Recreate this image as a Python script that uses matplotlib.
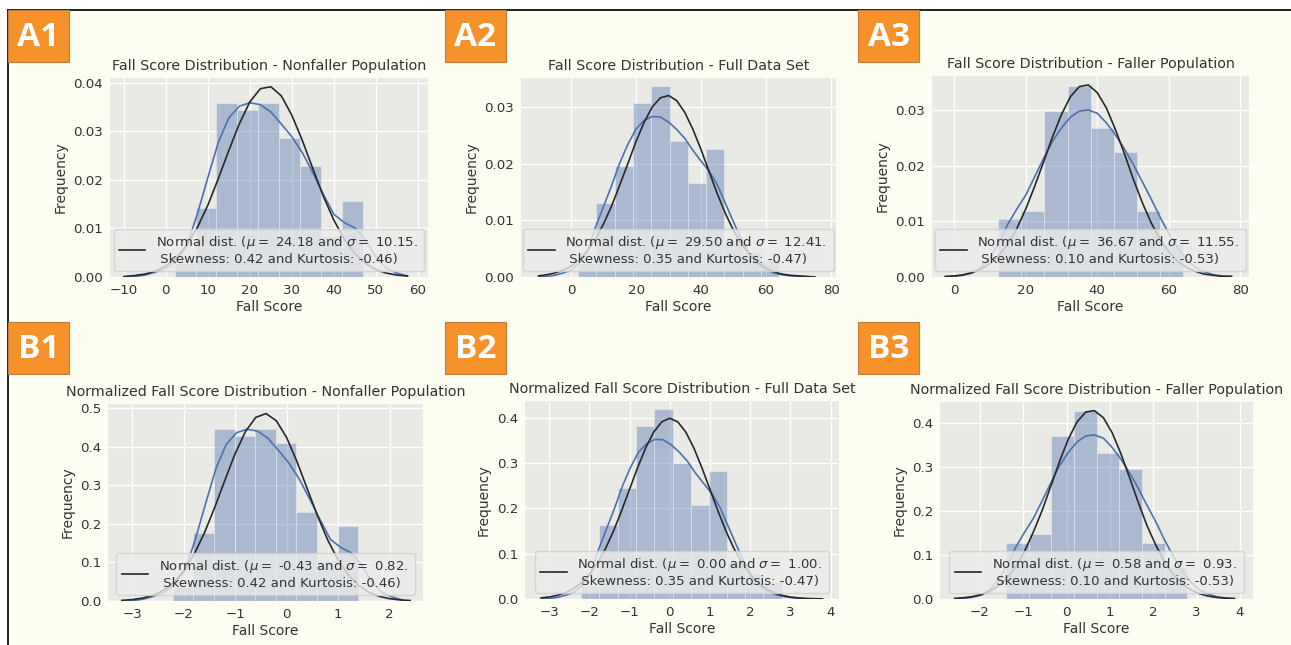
import matplotlib
matplotlib.use("Agg")
import matplotlib.pyplot as plt
from matplotlib.patches import Rectangle
from matplotlib.lines import Line2D

# ---- data ----
titles = ["Fall Score Distribution - Nonfaller Population",
          "Fall Score Distribution - Full Data Set",
          "Fall Score Distribution - Faller Population",
          "Normalized Fall Score Distribution - Nonfaller Population",
          "Normalized Fall Score Distribution - Full Data Set",
          "Normalized Fall Score Distribution - Faller Population"]
panel_tags = ["A1", "A2", "A3", "B1", "B2", "B3"]

fit_mu = ["24.18", "29.50", "36.67", "-0.43", "0.00", "0.58"]
fit_sigma = ["10.15", "12.41", "11.55", "0.82", "1.00", "0.93"]
skewness = ["0.42", "0.35", "0.10", "0.42", "0.35", "0.10"]
kurtosis = ["-0.46", "-0.47", "-0.53", "-0.46", "-0.47", "-0.53"]

# histogram bin edges and densities
a1_edges = [2.10, 7.07, 12.04, 17.01, 21.98, 26.95, 31.92, 36.89, 41.86, 46.83]
a1_heights = [0.0029, 0.0142, 0.0359, 0.0344, 0.0359, 0.0287, 0.0229, 0.0085, 0.0156]
a2_edges = [2.14, 7.77, 13.40, 19.03, 24.66, 30.29, 35.92, 41.55, 47.18, 52.81, 58.44, 64.07]
a2_heights = [0.0025, 0.0131, 0.0197, 0.0308, 0.0337, 0.0241, 0.0167, 0.0226, 0.0065, 0.0045, 0.0030]
a3_edges = [12.30, 18.76, 25.22, 31.68, 38.14, 44.60, 51.06, 57.52, 63.98]
a3_heights = [0.0104, 0.0119, 0.0298, 0.0343, 0.0268, 0.0224, 0.0119, 0.0059]
b1_edges = [-2.21, -1.81, -1.41, -1.01, -0.61, -0.21, 0.19, 0.59, 0.99, 1.39]
b1_heights = [0.036, 0.177, 0.446, 0.428, 0.446, 0.411, 0.230, 0.105, 0.195]
b2_edges = [-2.20, -1.75, -1.29, -0.84, -0.39, 0.07, 0.52, 0.97, 1.43, 1.88, 2.33, 2.79]
b2_heights = [0.031, 0.1625, 0.245, 0.382, 0.419, 0.300, 0.208, 0.2816, 0.081, 0.056, 0.037]
b3_edges = [-1.39, -0.87, -0.35, 0.17, 0.69, 1.21, 1.74, 2.26, 2.78]
b3_heights = [0.128, 0.147, 0.369, 0.426, 0.332, 0.295, 0.128, 0.073]

# kde (blue) and normal fit (black) curves
a1_x = [-10, -7.5, -5, -2.5, 0, 2.5, 5, 7.5, 10, 12.5, 15, 17.5, 20, 22.5, 25, 27.5,
        30, 32.5, 35, 37.5, 40, 42.5, 45, 47.5, 50, 52.5, 55, 57.5]
a1_kde = [0.0000, 0.0001, 0.0004, 0.0010, 0.0018, 0.0033, 0.0065, 0.0130, 0.0205, 0.0278,
          0.0328, 0.0352, 0.0359, 0.0355, 0.0340, 0.0315, 0.0289, 0.0256, 0.0215, 0.0170,
          0.0129, 0.0112, 0.0101, 0.0077, 0.0041, 0.0018, 0.0008, 0.0002]
a1_fit = [0.0001, 0.0003, 0.0006, 0.0012, 0.0023, 0.0040, 0.0066, 0.0102, 0.0148, 0.0203,
          0.0261, 0.0316, 0.0361, 0.0388, 0.0392, 0.0373, 0.0333, 0.0281, 0.0223, 0.0166,
          0.0117, 0.0077, 0.0048, 0.0028, 0.0015, 0.0008, 0.0004, 0.0002]

a2_x = [-10, -7.5, -5, -2.5, 0, 2.5, 5, 7.5, 10, 12.5, 15, 17.5, 20, 22.5, 25, 27.5,
        30, 32.5, 35, 37.5, 40, 42.5, 45, 47.5, 50, 52.5, 55, 57.5, 60, 62.5, 65,
        67.5, 70, 72.5, 75]
a2_kde = [0.0000, 0.0001, 0.0003, 0.0007, 0.0012, 0.0024, 0.0045, 0.0088, 0.0125, 0.0162,
          0.0202, 0.0235, 0.0262, 0.0277, 0.0284, 0.0283, 0.0274, 0.0261, 0.0245, 0.0224,
          0.0205, 0.0187, 0.0163, 0.0130, 0.0097, 0.0065, 0.0040, 0.0023, 0.0013, 0.0007,
          0.0004, 0.0002, 0.0001, 0.0000, 0.0000]
a2_fit = [0.0002, 0.0004, 0.0007, 0.0012, 0.0019, 0.0030, 0.0046, 0.0067, 0.0094, 0.0126,
          0.0163, 0.0201, 0.0240, 0.0274, 0.0301, 0.0317, 0.0321, 0.0312, 0.0291, 0.0261,
          0.0225, 0.0186, 0.0147, 0.0112, 0.0082, 0.0058, 0.0039, 0.0025, 0.0016, 0.0009,
          0.0005, 0.0003, 0.0002, 0.0001, 0.0000]

a3_x = [-2.5, 0, 2.5, 5, 7.5, 10, 12.5, 15, 17.5, 20, 22.5, 25, 27.5, 30, 32.5, 35,
        37.5, 40, 42.5, 45, 47.5, 50, 52.5, 55, 57.5, 60, 62.5, 65, 67.5, 70, 72.5,
        75, 77.5]
a3_kde = [0.0000, 0.0001, 0.0003, 0.0007, 0.0017, 0.0035, 0.0062, 0.0095, 0.0122, 0.0147,
          0.0180, 0.0213, 0.0244, 0.0268, 0.0287, 0.0298, 0.0300, 0.0294, 0.0277, 0.0256,
          0.0231, 0.0203, 0.0172, 0.0141, 0.0108, 0.0078, 0.0052, 0.0031, 0.0017, 0.0009,
          0.0004, 0.0002, 0.0001]
a3_fit = [0.0001, 0.0002, 0.0004, 0.0008, 0.0014, 0.0024, 0.0039, 0.0059, 0.0087, 0.0122,
          0.0163, 0.0207, 0.0252, 0.0292, 0.0324, 0.0342, 0.0345, 0.0331, 0.0304, 0.0266,
          0.0223, 0.0177, 0.0135, 0.0098, 0.0068, 0.0045, 0.0028, 0.0017, 0.0010, 0.0005,
          0.0003, 0.0001, 0.0001]

b1_kde_x = [-3.18, -2.98, -2.78, -2.58, -2.38, -2.18, -1.97, -1.77, -1.57, -1.37,
            -1.17, -0.97, -0.77, -0.56, -0.36, -0.16, 0.04, 0.24, 0.44, 0.65,
            0.85, 1.05, 1.25, 1.45, 1.65, 1.85, 2.06, 2.26]
b1_kde = [0.0000, 0.0012, 0.0050, 0.0124, 0.0223, 0.0410, 0.0807, 0.1613, 0.2544, 0.3450,
          0.4070, 0.4368, 0.4455, 0.4406, 0.4219, 0.3909, 0.3587, 0.3177, 0.2668, 0.2110,
          0.1601, 0.1390, 0.1253, 0.0956, 0.0509, 0.0223, 0.0099, 0.0025]
b1_fit_x = [-3.2, -3.0, -2.8, -2.6, -2.4, -2.2, -2.0, -1.8, -1.6, -1.4, -1.2, -1.0, -0.8,
            -0.6, -0.4, -0.2, 0.0, 0.2, 0.4, 0.6, 0.8, 1.0, 1.2, 1.4, 1.6, 1.8, 2.0, 2.2, 2.4]
b1_fit = [0.0016, 0.0036, 0.0075, 0.0147, 0.0271, 0.0473, 0.0778, 0.1205, 0.1758, 0.2416,
          0.3130, 0.3821, 0.4394, 0.4762, 0.4862, 0.4677, 0.4240, 0.3622, 0.2915, 0.2211,
          0.1580, 0.1063, 0.0674, 0.0403, 0.0227, 0.0120, 0.0060, 0.0028, 0.0013]

b2_kde_x = [-3.18, -2.98, -2.78, -2.58, -2.38, -2.18, -1.97, -1.77, -1.57, -1.37,
            -1.17, -0.97, -0.77, -0.56, -0.36, -0.16, 0.04, 0.24, 0.44, 0.64,
            0.85, 1.05, 1.25, 1.45, 1.65, 1.85, 2.06, 2.26, 2.46, 2.66,
            2.86, 3.06, 3.26, 3.47, 3.67]
b2_kde = [0.0000, 0.0012, 0.0037, 0.0087, 0.0149, 0.0298, 0.0558, 0.1092, 0.1551, 0.2010,
          0.2507, 0.2916, 0.3251, 0.3438, 0.3524, 0.3512, 0.3400, 0.3239, 0.3040, 0.2780,
          0.2544, 0.2321, 0.2023, 0.1613, 0.1204, 0.0807, 0.0496, 0.0285, 0.0161, 0.0087,
          0.0050, 0.0025, 0.0012, 0.0000, 0.0000]
b2_fit_x = [-3.2, -3.0, -2.8, -2.6, -2.4, -2.2, -2.0, -1.8, -1.6, -1.4, -1.2, -1.0,
            -0.8, -0.6, -0.4, -0.2, 0.0, 0.2, 0.4, 0.6, 0.8, 1.0, 1.2, 1.4, 1.6, 1.8,
            2.0, 2.2, 2.4, 2.6, 2.8, 3.0, 3.2, 3.4, 3.6, 3.8]
b2_fit = [0.0024, 0.0044, 0.0079, 0.0136, 0.0224, 0.0355, 0.0540, 0.0790, 0.1109, 0.1497,
          0.1942, 0.2420, 0.2897, 0.3332, 0.3683, 0.3910, 0.3989, 0.3910, 0.3683, 0.3332,
          0.2897, 0.2420, 0.1942, 0.1497, 0.1109, 0.0790, 0.0540, 0.0355, 0.0224, 0.0136,
          0.0079, 0.0044, 0.0024, 0.0012, 0.0006, 0.0003]

b3_x = [-2.58, -2.38, -2.18, -1.97, -1.77, -1.57, -1.37, -1.17, -0.97, -0.77,
        -0.56, -0.36, -0.16, 0.04, 0.24, 0.44, 0.64, 0.85, 1.05, 1.25,
        1.45, 1.65, 1.85, 2.06, 2.26, 2.46, 2.66, 2.86, 3.06, 3.26, 3.47, 3.67, 3.87]
b3_kde = [0.0000, 0.0012, 0.0037, 0.0087, 0.0211, 0.0434, 0.0769, 0.1179, 0.1514, 0.1824,
          0.2234, 0.2643, 0.3028, 0.3326, 0.3562, 0.3698, 0.3723, 0.3649, 0.3438, 0.3177,
          0.2867, 0.2519, 0.2135, 0.1750, 0.1340, 0.0968, 0.0645, 0.0385, 0.0211, 0.0112,
          0.0050, 0.0025, 0.0012]
b3_fit = [0.0014, 0.0028, 0.0054, 0.0100, 0.0177, 0.0298, 0.0480, 0.0737, 0.1081, 0.1512,
          0.2019, 0.2574, 0.3128, 0.3628, 0.4016, 0.4242, 0.4275, 0.4112, 0.3774, 0.3305,
          0.2762, 0.2202, 0.1676, 0.1217, 0.0843, 0.0557, 0.0352, 0.0212, 0.0122, 0.0067,
          0.0035, 0.0017, 0.0008]

x_ticks = [[-10, 0, 10, 20, 30, 40, 50, 60], [0, 20, 40, 60, 80], [0, 20, 40, 60, 80],
           [-3, -2, -1, 0, 1, 2], [-3, -2, -1, 0, 1, 2, 3, 4], [-2, -1, 0, 1, 2, 3, 4]]
y_ticks = [[0.00, 0.01, 0.02, 0.03, 0.04], [0.00, 0.01, 0.02, 0.03], [0.00, 0.01, 0.02, 0.03],
           [0.0, 0.1, 0.2, 0.3, 0.4, 0.5], [0.0, 0.1, 0.2, 0.3, 0.4], [0.0, 0.1, 0.2, 0.3, 0.4]]

# ---- layout (pixel boxes of each axes: left, right, top, bottom) ----
W, H = 1291, 645
boxes = [(110, 428, 78, 277), (521, 836, 78, 277), (932, 1249, 76, 277),
         (108, 423, 404, 601), (525, 839, 401, 599), (940, 1253, 402, 599)]
xlims = [(-13.3, 62.4), (-15.4, 81.5), (-6.2, 82.4), (-3.47, 2.65), (-3.60, 4.21), (-2.92, 4.30)]
ylims = [0.041, 0.0352, 0.0361, 0.511, 0.437, 0.447]
tag_boxes = [(8, 10), (445, 10), (858, 10), (8, 322), (445, 322), (858, 322)]

panels = [
    (a1_edges, a1_heights, a1_x, a1_kde, a1_x, a1_fit),
    (a2_edges, a2_heights, a2_x, a2_kde, a2_x, a2_fit),
    (a3_edges, a3_heights, a3_x, a3_kde, a3_x, a3_fit),
    (b1_edges, b1_heights, b1_kde_x, b1_kde, b1_fit_x, b1_fit),
    (b2_edges, b2_heights, b2_kde_x, b2_kde, b2_fit_x, b2_fit),
    (b3_edges, b3_heights, b3_x, b3_kde, b3_x, b3_fit),
]

plt.rcParams['font.family'] = ['DejaVu Sans']
text_col = '#333333'

fig = plt.figure(figsize=(W / 100, H / 100), dpi=100)
fig.patch.set_facecolor('white')

# page background with its frame lines (kept below the axes)
fig.patches.append(Rectangle((8 / W, 0), 1 - 8 / W, 1 - 10 / H, transform=fig.transFigure,
                             facecolor='#fdfdf1', edgecolor='none', zorder=-5))
fig.lines.append(Line2D([8 / W, 1], [1 - 10 / H, 1 - 10 / H], transform=fig.transFigure,
                        color='#111111', lw=1.3, zorder=-4))
fig.lines.append(Line2D([8 / W, 8 / W], [0, 1 - 10 / H], transform=fig.transFigure,
                        color='#111111', lw=1.3, zorder=-4))

for i, (edges, heights, kx, ky, fx, fy) in enumerate(panels):
    l, r, t, b = boxes[i]
    ax = fig.add_axes([l / W, 1 - b / H, (r - l) / W, (b - t) / H])
    ax.set_facecolor('#e9e9e6')
    for s in ax.spines.values():
        s.set_visible(False)
    ax.grid(True, color='white', lw=1.0)
    ax.set_axisbelow(True)

    widths = [edges[k + 1] - edges[k] for k in range(len(heights))]
    ax.bar(edges[:-1], heights, width=widths, align='edge', color='#4c72b0', alpha=0.4,
           edgecolor='white', linewidth=0.6, zorder=2)
    ax.plot(kx, ky, color='#4c72b0', lw=1.2, zorder=3, solid_joinstyle='round')
    label = ("Normal dist. ($\\mu=$ {} and $\\sigma=$ {}. \n Skewness: {} and Kurtosis: {})"
             .format(fit_mu[i], fit_sigma[i], skewness[i], kurtosis[i]))
    ax.plot(fx, fy, color='#282828', lw=1.2, zorder=4, label=label, solid_joinstyle='round')

    ax.set_xlim(*xlims[i])
    ax.set_ylim(0, ylims[i])
    ax.set_xticks(x_ticks[i])
    ax.set_yticks(y_ticks[i])
    if i < 3:
        ax.set_yticklabels(["{:.2f}".format(v) for v in y_ticks[i]])
    else:
        ax.set_yticklabels(["{:.1f}".format(v) for v in y_ticks[i]])
    ax.tick_params(length=0, labelsize=9.6, colors=text_col, pad=5)
    ax.set_title(titles[i], fontsize=10.3, color=text_col, pad=6)
    ax.set_xlabel("Fall Score", fontsize=10, color=text_col, labelpad=2)
    ax.set_ylabel("Frequency", fontsize=10, color=text_col, labelpad=4)

    leg = ax.legend(loc='lower center', fontsize=9.5, framealpha=0.8, facecolor='#ececea',
                    edgecolor='#cfcfcf', fancybox=True, labelcolor=text_col,
                    borderaxespad=0.45)
    leg.set_zorder(5)

    # orange panel tag
    tx, ty = tag_boxes[i]
    fig.patches.append(Rectangle((tx / W, 1 - (ty + 52) / H), 61 / W, 52 / H,
                                 transform=fig.transFigure, facecolor='#f7922a',
                                 edgecolor='#c47a3a', lw=0.8, zorder=1))
    fig.text((tx + 30.5) / W, 1 - (ty + 27) / H, panel_tags[i], color='white',
             fontsize=24, fontweight='bold', family=['Open Sans', 'DejaVu Sans'],
             ha='center', va='center', zorder=2)

fig.savefig("out.png", dpi=100)
